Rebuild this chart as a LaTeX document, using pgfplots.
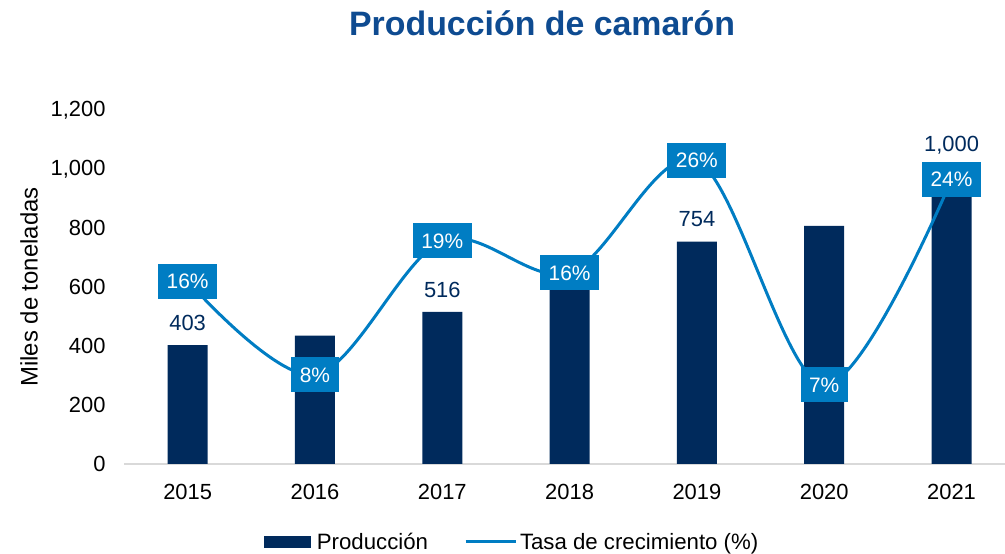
\documentclass[border=0pt]{standalone}
\usepackage{pgfplots}
\pgfplotsset{compat=1.18}
\usepackage{fontspec}
\setmainfont{Liberation Sans}
\definecolor{navy}{RGB}{0,42,92}
\definecolor{lblue}{RGB}{0,125,195}
\definecolor{titleblue}{RGB}{14,75,145}
\begin{document}
\begin{tikzpicture}[x=1bp,y=1bp]
\useasboundingbox (0,0) rectangle (1005,554);
\begin{axis}[
  at={(124bp,90bp)}, anchor=south west,
  scale only axis, width=881bp, height=354bp,
  xmin=-0.5, xmax=6.42, ymin=0, ymax=1200,
  axis x line=bottom, axis y line=left,
  axis line style={-},
  y axis line style={draw=none},
  x axis line style={draw=black!15, line width=1.5bp},
  major tick length=0pt,
  xtick={0,...,6}, xticklabels={2015,2016,2017,2018,2019,2020,2021},
  ytick={0,200,...,1200},
  /pgf/number format/.cd, 1000 sep={,}, assume math mode=true, /pgfplots/.cd,
  tick label style={font=\fontsize{22}{26}\selectfont},
  xticklabel style={yshift=-17bp},
  yticklabel style={xshift=-15bp},
  ylabel={Miles de toneladas},
  ylabel style={font=\fontsize{24}{28}\selectfont, at={(axis description cs:-0.1078,0.5)}, anchor=center},
  title={Producción de camarón},
  title style={font=\fontsize{34}{40}\bfseries\selectfont, text=titleblue, at={(axis description cs:0.4745,1.229)}, anchor=center},
  legend style={draw=none, fill=none, legend columns=2, font=\fontsize{22.3}{26}\selectfont,
    at={(axis description cs:0.4405,-0.22)}, anchor=center,
    /tikz/every even column/.append style={column sep=34bp}},
  legend cell align=left,
  clip=false,
]
\addplot[ybar, bar width=40bp, fill=navy, draw=none,
  legend image code/.code={\fill[navy] (0bp,-6bp) rectangle (47bp,6bp); \path (51bp,0bp);}]
  coordinates {(0,403) (1,435) (2,516) (3,599) (4,754) (5,807) (6,1000)};
\addlegendentry{Producción}
\addplot[draw=none, forget plot, nodes near coords, point meta=explicit symbolic,
  nodes near coords style={anchor=south, yshift=11bp, font=\fontsize{22}{26}\selectfont, text=navy}]
  coordinates {(0,403) [403] (2,516) [516] (4,754) [754] (6,1000) [1,000]};
\addlegendimage{lblue, line width=3bp, legend image code/.code={\draw[lblue, line width=3bp] (0bp,0bp) -- (50bp,0bp); \path (51bp,0bp);}}
\addlegendentry{Tasa de crecimiento (\%)}
\end{axis}
\begin{axis}[
  at={(124bp,90bp)}, anchor=south west,
  scale only axis, width=881bp, height=354bp,
  xmin=-0.5, xmax=6.42, ymin=0, ymax=30,
  hide axis, clip=false,
]
\addplot[lblue, line width=3bp, smooth, tension=0.55, no marks,
  nodes near coords, point meta=explicit symbolic,
  nodes near coords style={anchor=center, fill=lblue, text=white, inner xsep=8.5bp, inner ysep=0bp,
    minimum height=35bp, font=\fontsize{21}{25}\selectfont}]
  coordinates {(0,15.5) [16\%] (1,7.55) [8\%] (2,18.9) [19\%] (3,16.2) [16\%] (4,25.7) [26\%] (5,6.7) [7\%] (6,24.1) [24\%]};
\end{axis}
\end{tikzpicture}
\end{document}
